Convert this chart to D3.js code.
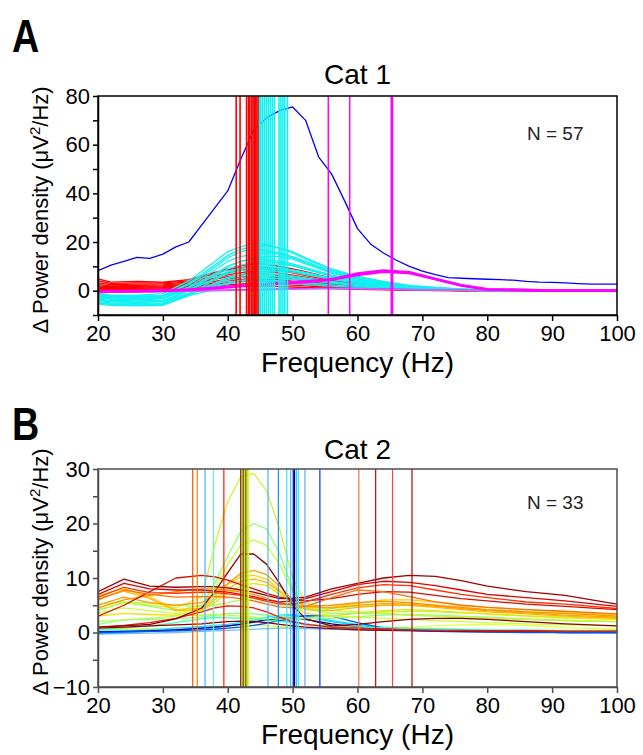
<!DOCTYPE html>
<html>
<head>
<meta charset="utf-8">
<script src="https://cdn.jsdelivr.net/npm/d3@7"></script>
<style>
  body { margin: 0; background: #fff; }
  text { font-family: "Liberation Sans", Arial, sans-serif; }
</style>
</head>
<body>
<svg id="chart" width="643" height="755"></svg>
<script>
// ---------- Panel A (Cat 1) data ----------
const freqBlueA = [20,22,24,26,28,30,32,34,36,38,40,42,44,46,48,50,52,54,56,58,60,62,64,66,68,70,72,74,76,78,80,82,84,86,88,90,92,94,96,98,100];
const blueA = [8.2,10.5,12,13.7,13.3,15,18,20,27,34,41,54,66,71,74,75.5,70,55,48,37,25.5,19.2,15.5,12.5,10,8,6.6,5.4,5.1,4.9,4.7,4.5,4.3,3.8,3.5,3.4,3.2,2.9,2.7,2.7,2.7];

const freqA = [20,22,26,30,34,38,40,42,44,46,48,50,52,56,60,64,68,72,76,80,90,100];
const cyanA = [
  [-1.2,-1.8,-1.8,-1.2,4,12,16,18,19.5,19,17.5,15.5,13,8.5,5.5,3.5,2,1.2,0.6,0.3,0,0],
  [-2,-2.5,-2.6,-2,3,10.5,14.5,17,18,18.5,17.5,16,13.5,9,6,3.8,2.2,1.3,0.7,0.3,0,0],
  [-1.5,-2.2,-2.4,-2,2.5,9.5,13.5,16,17,16.5,15.5,14,12,8,5.2,3.2,1.8,1,0.5,0.2,0,0],
  [-3,-3.6,-3.8,-3.4,1.5,8.5,12,14,15,15.5,15,13.5,11.5,7.5,4.8,3,1.7,1,0.5,0.2,0,0],
  [-2.5,-3,-3.2,-3,1,7,10,12,13.5,14,14,13,11,7.2,4.6,2.8,1.6,0.9,0.4,0.2,0,0],
  [-4,-4.6,-4.8,-4.5,0,6.5,10,12,13,12.8,12,11,9.5,6.5,4.2,2.6,1.5,0.8,0.4,0.1,0,0],
  [-1.8,-2.4,-2.5,-2.2,1.5,6,9,10.5,11.5,12,11.5,10.5,9,6,4,2.5,1.4,0.8,0.4,0.1,0,0],
  [-5,-5.6,-5.8,-5.6,-1.5,4.5,7.5,9,10.2,10.8,11,10.2,8.8,6,3.8,2.3,1.3,0.7,0.3,0.1,0,0],
  [-3.5,-4,-4.2,-4,0,5,8,9.3,10,9.8,9.3,8.5,7.5,5.2,3.5,2.2,1.2,0.6,0.3,0.1,0,0],
  [-2.8,-3.3,-3.5,-3.2,0.5,4.5,7,8.2,8.8,9,8.6,8,7,5,3.3,2,1.1,0.6,0.3,0,0,0],
  [-5.5,-6,-6.2,-6,-2,3,5.5,6.8,7.5,7.9,8,7.5,6.6,4.6,3,1.8,1,0.5,0.2,0,0,0],
  [-4.5,-5,-5.2,-5,-1.2,2.8,5,6.3,7,6.9,6.5,6,5.3,3.8,2.6,1.6,0.9,0.5,0.2,0,0,0],
  [-2.2,-2.8,-3,-2.8,0,2.6,4.2,5.3,5.8,6,5.8,5.4,4.8,3.5,2.4,1.5,0.8,0.4,0.2,0,0,0],
  [-3.8,-4.4,-4.6,-4.4,-1,1.8,3.2,4.2,4.7,5,5,4.7,4.2,3.1,2.1,1.3,0.7,0.4,0.2,0,0,0],
  [-1.5,-2,-2.2,-2,0,1.8,2.8,3.5,3.9,4,3.9,3.6,3.2,2.4,1.7,1.1,0.6,0.3,0.1,0,0,0],
  [-4.8,-5.3,-5.5,-5.3,-2,0.5,1.6,2.3,2.7,2.9,3,2.8,2.5,1.9,1.3,0.8,0.5,0.2,0.1,0,0,0]
];
const redA = [
  [4.8,3.5,3.8,3.5,4.5,7.5,9,10.3,11,10.8,10,9,7.8,5.2,3.2,1.9,1,0.5,0.2,0,0,0],
  [4,3,3.2,3.2,4,7,8.6,9.6,10,9.6,8.8,7.8,6.8,4.5,2.8,1.6,0.8,0.4,0.1,0,0,0],
  [3.2,2.5,2.7,2.8,3.5,6,7.3,8.3,9,8.8,8.2,7.3,6.2,4.2,2.6,1.5,0.8,0.4,0.1,0,0,0],
  [2.5,2,2.2,2.4,3,5.2,6.5,7.4,8,7.8,7.2,6.4,5.5,3.7,2.3,1.3,0.7,0.3,0.1,0,0,0],
  [2,1.6,1.8,2,2.6,4.6,5.8,6.6,7,6.8,6.2,5.5,4.7,3.2,2,1.1,0.6,0.3,0.1,0,0,0],
  [1.5,1.2,1.4,1.6,2.2,3.8,4.8,5.6,6,5.8,5.3,4.7,4,2.7,1.7,1,0.5,0.2,0,0,0,0],
  [1,0.8,1,1.2,1.8,3.2,4,4.6,5,4.8,4.4,3.9,3.3,2.2,1.4,0.8,0.4,0.2,0,0,0,0],
  [0.6,0.5,0.6,0.8,1.4,2.6,3.3,3.8,4,3.9,3.5,3.1,2.6,1.8,1.1,0.6,0.3,0.1,0,0,0,0],
  [0.3,0.2,0.3,0.5,1,1.9,2.4,2.8,3,2.9,2.6,2.3,2,1.3,0.8,0.5,0.2,0.1,0,0,0,0],
  [0,0,0,0.2,0.6,1.2,1.6,1.9,2,1.9,1.7,1.5,1.3,0.9,0.5,0.3,0.1,0,0,0,0,0]
];
const magentaA = [
  [-0.3,-0.3,-0.2,-0.1,0,0.2,0.3,0.4,0.5,0.6,0.7,0.8,0.9,1,0.9,0.7,0.5,0.3,0.2,0.1,0,0],
  [-0.6,-0.5,-0.4,-0.3,-0.2,0,0.1,0.2,0.3,0.4,0.5,0.6,0.7,0.9,0.8,0.6,0.4,0.3,0.1,0,0,0],
  [-0.5,-0.4,-0.3,-0.1,0.3,1,1.4,1.8,2.2,2.6,2.9,3.2,3.5,4.6,6.5,7.8,7.3,4.8,2.2,0.6,0,0],
  [-0.4,-0.3,-0.2,0,0.5,1.2,1.6,2,2.4,2.8,3.1,3.4,3.8,4.6,7,8.3,7.6,4.8,2.1,0.5,0,0]
];
const peaksRedA = [41.3,41.9,42.9,43.2,43.4,43.7,43.9,44.1,44.3,44.5,44.7];
const peaksCyanA = [44.9,45.1,45.4,45.7,46.0,46.3,46.6,46.9,47.2,47.9,48.2,48.5,48.8,49.2];
const peaksMagentaA = [55.5,58.8,65.2,65.4];

// ---------- Panel B (Cat 2) data ----------
const freqB = [20,24,28,32,36,38,40,42,44,46,48,50,52,56,60,64,68,72,76,80,86,92,100];
const curvesB = [
  [0.5,0.6,0.7,0.8,1,1.1,1.2,1.3,1.3,1.2,1.1,1,0.9,0.8,0.8,0.9,1,1.2,1.4,1.5,1.3,0.9,0.6],
  [-0.3,-0.2,-0.1,0,0.2,0.3,0.4,0.5,0.6,0.7,0.8,0.8,0.7,0.6,0.5,0.4,0.3,0.3,0.2,0.2,0.1,0.1,0.1],
  [-0.2,0,0.2,0.4,0.7,0.9,1.2,1.6,2,2.3,2.2,2,1.6,1,0.6,0.4,0.3,0.2,0.2,0.1,0.1,0,0],
  [0,0.2,0.3,0.5,0.8,1,1.2,1.5,1.9,2.4,2.9,3.1,2.9,2,1.3,0.8,0.5,0.4,0.3,0.2,0.1,0.1,0],
  [0.2,0.3,0.5,0.8,1.1,1.3,1.5,1.8,2.2,2.8,3.2,3.3,3,2.2,1.5,1,0.7,0.5,0.4,0.3,0.2,0.2,0.1],
  [0.1,0.2,0.3,0.5,0.8,1,1.2,1.5,1.9,2.3,2.6,2.7,2.4,1.6,1,0.6,0.4,0.3,0.2,0.1,0.1,0,0],
  [0,0.1,0.2,0.3,0.5,0.6,0.8,1,1.3,1.7,2.2,2.7,3.1,3,1.8,0.8,0.4,0.2,0.1,0.1,0,0,0],
  [0.5,0.8,1.2,1.8,2.5,2.8,2.7,2.6,2.5,2.3,2,1.8,1.5,1.2,1,0.9,0.8,0.7,0.6,0.5,0.5,0.4,0.4],
  [1.5,2.3,2.4,2.5,2.8,3.2,3.5,3.5,3.4,3.2,3,2.8,2.6,2.6,2.9,3.2,3.3,3.2,3,2.8,2.5,2.2,2],
  [2,2.3,2.6,3,3.2,3.3,3.2,3,2.8,2.6,2.5,2.5,2.6,3,3.5,3.8,3.9,3.8,3.6,3.4,3.1,2.8,2.5],
  [5.2,5.6,5.4,5,4.8,5,5.5,6,6.3,6,5.4,4.6,4.3,4.4,4.8,5,5,4.8,4.5,4.2,3.8,3.5,3.2],
  [0.8,1,1.2,1.4,1.6,1.8,2,2.1,2,1.8,1.5,1.2,1,0.7,0.5,0.4,0.4,0.3,0.3,0.3,0.3,0.2,0.2],
  [1,1.3,1.8,2.6,3.8,4.5,4.9,4.8,4.5,3.8,2.8,2,1.5,1,0.8,0.6,0.5,0.4,0.4,0.3,0.3,0.2,0.2],
  [3,3.5,3.3,3.2,4,5.5,7.2,8.5,9,8.6,7,5,3.5,3,3.6,4,4.2,4,3.7,3.4,3,2.7,2.4],
  [3.6,4.5,4,3.5,4.5,8,12.5,16,17,16,12.5,7.5,4.5,3,2.8,2.6,2.4,2.2,2,1.8,1.6,1.4,1.2],
  [4,5.5,4.8,4,5,9,14,18.5,20,19,14.5,8,4.5,3.5,3.5,3.4,3.2,3,2.8,2.6,2.4,2.2,2],
  [4.2,5.5,5,4.5,6.5,16,24,28.5,29.2,26,19,10,5.5,4,3.8,3.6,3.2,3,2.8,2.6,2.4,2.2,2],
  [6.2,7.6,6.2,4,4.2,6,8,9.4,9.8,9.2,7.5,5.4,4.2,4,4.6,5,5,4.6,4.2,3.8,3.4,3,2.6],
  [6.8,8,6.5,4.2,4.5,6.5,8.8,10.2,10.5,9.8,7.8,5.5,4.5,4.6,5.4,6,6,5.6,5,4.6,4.2,3.8,3.3],
  [5,6.5,5.5,5,5.5,7,9,10.8,11.4,10.6,8.5,6,4.8,4.5,5,5.3,5.2,4.8,4.4,4,3.6,3.2,2.8],
  [1,1.2,1.5,2.5,4.5,7.5,11,14.4,14.4,12.5,9,5,2.5,1.2,1.5,2,2.4,2.6,2.6,2.4,2,1.6,1.2],
  [4.5,6,6.8,7.5,8,8,7.8,7.4,7,6.3,5.5,5,4.8,5,5.5,5.7,5.5,5,4.6,4.2,3.8,3.5,3],
  [3,5,7.5,10,10.5,10.2,9.6,8.8,8,7.2,6.5,6,5.8,6.2,7,7.5,7.4,6.8,6.2,5.8,5.2,4.8,4.2],
  [6,7.8,7,6.5,6.6,6.6,6.5,6.2,5.8,5.2,4.7,4.5,4.8,6.4,7.8,7.5,6.6,5.6,5,4.6,4.2,3.9,3.4],
  [6.5,8.3,7.3,7.2,7.4,7.3,7.1,6.8,6.3,5.7,5.2,5.2,5.6,7,8.2,8.8,8.6,7.8,7,6.4,5.6,5.2,4.4],
  [7,9,8,7.8,7.8,7.6,7.4,7,6.6,6,5.6,5.8,6.2,7.5,8.8,9.4,9.2,8.6,7.8,7,6.4,5.8,4.8],
  [7.5,9.8,8.5,8.3,8.4,8.4,8.2,7.8,7.4,6.8,6.2,6.3,6.5,8,9,10,10.5,10.3,9.5,8.5,7.5,6.8,5.2]
];
const colorsB = [
  "#e8ff40","#70c0ff","#40a0ff","#00c8ff","#20e0ff","#000090","#0050ff","#40ffb0",
  "#90ff80","#b0ff50","#a0ff60","#900000","#ff1000","#f0e000","#c8ff40","#90ff70",
  "#d8f030","#ffb800","#ffd000","#ffa000","#8b0000","#ff9000","#d01000","#ff7000",
  "#ff3000","#e00000","#a00000"
];
const peaksB = [34.6,35.3,36.5,37.8,39.4,42.0,42.2,42.4,42.6,42.8,43.0,43.2,46.2,47.8,49.1,49.7,50.1,50.3,50.6,50.9,51.9,54.2,60.2,62.8,65.4,68.4];
const peakColorsB = ["#ff5000","#ff8000","#40b0ff","#60ffb0","#ff2000","#8b1a00","#b8a000","#556b00","#e0e000","#404000","#d0d000","#c8ff40",
  "#40b8ff","#1090ff","#40e0ff","#40c0ff","#0000a0","#000080","#20d0ff","#40e8ff","#60a8ff","#0030ff","#ff7030","#d00000","#ff4040","#b00000"];

const xTicks = [20,30,40,50,60,70,80,90,100];
const yTicksA = [-10,0,10,20,30,40,50,60,70,80];
const yLabelsA = [0,20,40,60,80];
const yTicksB = [-10,-5,0,5,10,15,20,25,30];
const yLabelsB = [-10,0,10,20,30];

// ---------- drawing ----------
const svg = d3.select("#chart");
const fmt = d3.format("d");

function panel(o) {
  const x = d3.scaleLinear().domain([20, 100]).range([98, 617]);
  const y = d3.scaleLinear().domain(o.yDomain).range([o.bottom, o.top]);
  const g = svg.append("g");

  g.append("clipPath").attr("id", o.id + "clip")
    .append("rect").attr("x", 98).attr("y", o.top).attr("width", 519).attr("height", o.bottom - o.top);
  const plot = g.append("g").attr("clip-path", `url(#${o.id}clip)`);

  o.drawMarks(plot, x, y);

  g.append("rect")
    .attr("x", 98).attr("y", o.top).attr("width", 519).attr("height", o.bottom - o.top)
    .attr("fill", "none").attr("stroke", o.axisColor).attr("stroke-width", 1.5);

  const yAxis = g.append("g").attr("transform", "translate(98,0)")
    .call(d3.axisLeft(y).tickValues(o.yTicks).tickSize(5).tickSizeOuter(0).tickPadding(3)
      .tickFormat(d => o.yLabels.includes(d) ? fmt(d) : ""));
  const xAxis = g.append("g").attr("transform", `translate(0,${o.bottom})`)
    .call(d3.axisBottom(x).tickValues(xTicks).tickSize(6).tickSizeOuter(0).tickPadding(4).tickFormat(fmt));
  [xAxis, yAxis].forEach(a => {
    a.select(".domain").attr("stroke", o.axisColor).attr("stroke-width", 1.5);
    a.selectAll(".tick line").attr("stroke", o.axisColor).attr("stroke-width", 1.5);
    a.selectAll("text").attr("font-family", "Liberation Sans, Arial, sans-serif")
      .attr("font-size", 22).attr("fill", "#000");
  });

  g.append("text").attr("x", 357.5).attr("y", o.top - o.titleGap)
    .attr("text-anchor", "middle").attr("font-size", 28).text(o.title);
  g.append("text").attr("x", 357.5).attr("y", o.bottom + 57)
    .attr("text-anchor", "middle").attr("font-size", 28).text("Frequency (Hz)");

  const yl = g.append("text")
    .attr("transform", `translate(48,${o.ylabelY}) rotate(-90)`)
    .attr("text-anchor", "middle").attr("font-size", 22);
  yl.append("tspan").text("\u0394 Power density (\u03bcV");
  yl.append("tspan").attr("font-size", 15).attr("dy", -8).text("2");
  yl.append("tspan").attr("dy", 8).text("/Hz)");

  g.append("text").attr("x", 527).attr("y", o.top + o.nGap)
    .attr("font-family", "Open Sans, Noto Sans, sans-serif").attr("font-size", 19)
    .attr("fill", "#222").text(o.nText);

  g.append("text").attr("transform", `translate(12,${o.letterY}) scale(0.82,1)`)
    .attr("font-size", 46).attr("font-weight", "bold").text(o.letter);
}

function drawLines(plot, x, y, freqs, series, color, width) {
  const line = d3.line().x((d, i) => x(freqs[i])).y(d => y(d));
  return plot.append("g").selectAll("path").data(series).join("path")
    .attr("d", line).attr("fill", "none")
    .attr("stroke", (d, i) => typeof color === "function" ? color(i) : color)
    .attr("stroke-width", (d, i) => typeof width === "function" ? width(i) : width)
    .attr("stroke-linejoin", "round");
}

function drawPeaks(plot, x, top, bottom, peaks, color, width) {
  plot.append("g").selectAll("line").data(peaks).join("line")
    .attr("x1", d => x(d)).attr("x2", d => x(d))
    .attr("y1", top).attr("y2", bottom)
    .attr("stroke", (d, i) => typeof color === "function" ? color(i) : color)
    .attr("stroke-width", (d, i) => typeof width === "function" ? width(i) : width);
}

panel({
  id: "A", top: 96, bottom: 315, yDomain: [-10, 80],
  yTicks: yTicksA, yLabels: yLabelsA, axisColor: "#000",
  title: "Cat 1", titleGap: 12, ylabelY: 210, nText: "N = 57", nGap: 44,
  letter: "A", letterY: 52,
  drawMarks(plot, x, y) {
    drawLines(plot, x, y, freqA, redA, "#ff0000", 1.3);
    drawLines(plot, x, y, freqA, cyanA, "#12f0f0", 1.3);
    drawLines(plot, x, y, freqA, magentaA, i => i === 1 ? "#c070ff" : "#ff00ff", i => i >= 2 ? 2.6 : 1.5);
    drawLines(plot, x, y, freqBlueA, [blueA], "#0000ff", 1.3);
    drawPeaks(plot, x, 96, 315, peaksRedA, "#ff0000", 1.6);
    drawPeaks(plot, x, 96, 315, peaksCyanA, "#12f0f0", 1.6);
    drawPeaks(plot, x, 96, 315, peaksMagentaA, "#ff00ff", 1.5);
  }
});

panel({
  id: "B", top: 469, bottom: 687, yDomain: [-10, 30],
  yTicks: yTicksB, yLabels: yLabelsB, axisColor: "#4d4d4d",
  title: "Cat 2", titleGap: 10, ylabelY: 572, nText: "N = 33", nGap: 40,
  letter: "B", letterY: 440,
  drawMarks(plot, x, y) {
    drawLines(plot, x, y, freqB, curvesB, i => colorsB[i], 1.3);
    drawPeaks(plot, x, 469, 687, peaksB, i => peakColorsB[i], 1.2);
  }
});
</script>
</body>
</html>
